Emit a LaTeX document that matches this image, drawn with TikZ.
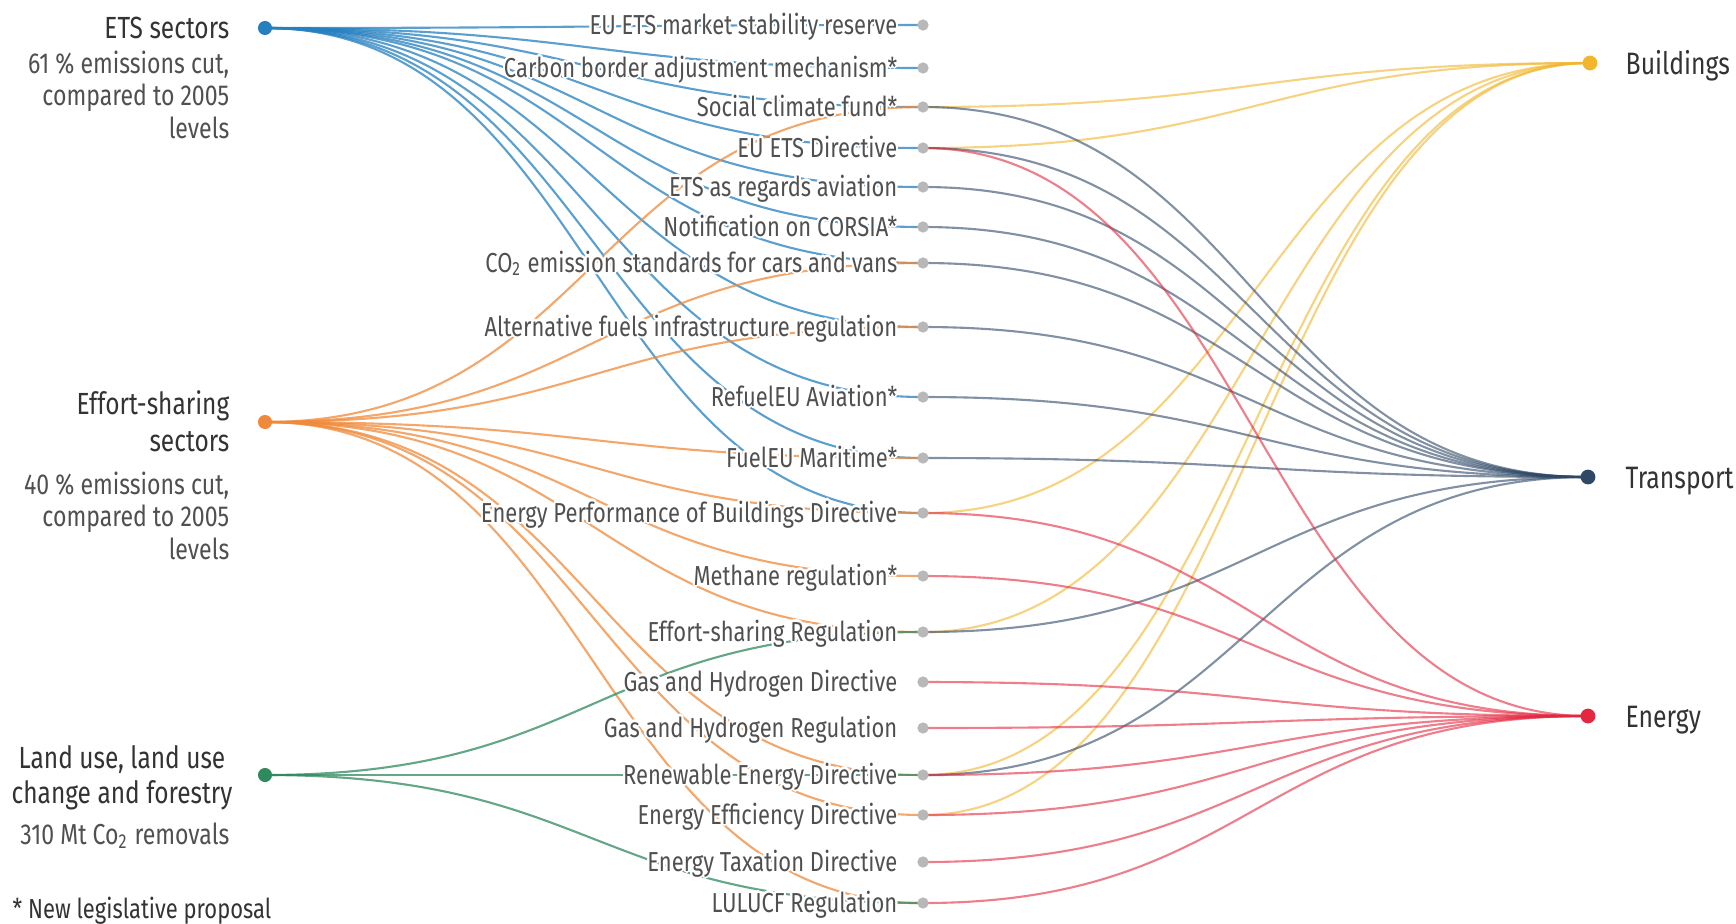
\documentclass[tikz,border=0pt]{standalone}
\usepackage{fontspec}
\setmainfont{Fira Sans}[FakeStretch=0.80]
\usepackage[copies]{contour}
\contourlength{0.6pt}

\definecolor{etsblue}{HTML}{2580C0}
\definecolor{esrorange}{HTML}{F08A3A}
\definecolor{lulgreen}{HTML}{2F8A5E}
\definecolor{buiyellow}{HTML}{F1B62C}
\definecolor{tradark}{HTML}{2E4866}
\definecolor{enered}{HTML}{E3283F}
\definecolor{dotgrey}{HTML}{B8B8B8}
\definecolor{labgrey}{HTML}{505050}
\definecolor{titgrey}{HTML}{333333}

\tikzset{
  link/.style={line width=0.6pt, opacity=0.75},
  rlink/.style={line width=0.6pt, opacity=0.6},
  mlabel/.style={anchor=base east, inner sep=0pt, text=labgrey, font=\fontsize{7.8}{8}\selectfont},
  tit/.style={inner sep=0pt, text=titgrey, font=\fontsize{8.7}{10.5}\selectfont},
  sub/.style={inner sep=0pt, text=labgrey, font=\fontsize{8.2}{9.3}\selectfont},
  rlabel/.style={anchor=base west, inner sep=0pt, text=titgrey, font=\fontsize{8.8}{10}\selectfont}
}

% curve from one dot to another
\newcommand\linkto[4]{\draw[#1,#2] (#3) .. controls +(330,0) and +(-330,0) .. (#4);}

% name / y / text of the measures
\def\items{msr/25/EU ETS market stability reserve, cbam/68/Carbon border adjustment mechanism*,
  scf/107/Social climate fund*, etsd/148/EU ETS Directive, etsav/187/ETS as regards aviation,
  corsia/227/Notification on CORSIA*, cars/263/CO\textsubscript{2} emission standards for cars and vans,
  afir/327/Alternative fuels infrastructure regulation, refuel/397/RefuelEU Aviation*,
  fuel/458/FuelEU Maritime*, epbd/513/Energy Performance of Buildings Directive,
  meth/576/Methane regulation*, esreg/632/Effort-sharing Regulation, ghd/682/Gas and Hydrogen Directive,
  ghr/728/Gas and Hydrogen Regulation, red/775/Renewable Energy Directive,
  eed/815/Energy Efficiency Directive, etd/862/Energy Taxation Directive, lulreg/903/LULUCF Regulation}

\begin{document}
\begin{tikzpicture}[x=0.01cm,y=-0.01cm,line cap=round,line join=round]
\useasboundingbox (0,0) rectangle (1736,923);
\fill[white] (0,0) rectangle (1736,923);

% sectors (left)
\coordinate (ets) at (265,28);
\coordinate (esr) at (265,422);
\coordinate (lul) at (265,775);
% areas (right)
\coordinate (bui) at (1590,63);
\coordinate (tra) at (1588,477);
\coordinate (ene) at (1588,716);
% measures (middle)
\foreach \n/\y/\txt in \items {\coordinate (\n) at (923,\y);}

% left links
\foreach \t in {msr,cbam,scf,etsd,etsav,corsia,cars,afir,refuel,fuel,epbd} {\linkto{link}{etsblue}{ets}{\t}}
\foreach \t in {scf,cars,afir,fuel,epbd,meth,esreg,red,eed,lulreg} {\linkto{link}{esrorange}{esr}{\t}}
\foreach \t in {esreg,red,lulreg} {\linkto{link}{lulgreen}{lul}{\t}}
% right links
\foreach \t in {scf,etsd,epbd,esreg,red,eed} {\linkto{rlink}{buiyellow}{\t}{bui}}
\foreach \t in {scf,etsd,etsav,corsia,cars,afir,refuel,fuel,esreg,red} {\linkto{rlink}{tradark}{\t}{tra}}
\foreach \t in {etsd,epbd,meth,ghd,ghr,red,eed,etd,lulreg} {\linkto{rlink}{enered}{\t}{ene}}

% labels and dots of the measures
\foreach \n/\y/\txt in \items {
  \node[mlabel] (\n-lab) at (898,\y+9) {\contour{white}{\txt}};
  \fill[dotgrey] (\n) circle[radius=1.6pt];
}

% dots and texts of the sectors
\fill[etsblue] (ets) circle[radius=2pt];
\fill[esrorange] (esr) circle[radius=2pt];
\fill[lulgreen] (lul) circle[radius=2pt];
\node[tit, anchor=base east] (ets-t) at (230,38) {ETS sectors};
\node[sub, anchor=north east, align=right] (ets-s) at (230,50) {61 \% emissions cut,\\compared to 2005\\levels};
\node[tit, anchor=north east, align=right] (esr-t) at (230,390) {Effort-sharing\\sectors};
\node[sub, anchor=north east, align=right] (esr-s) at (230,471) {40 \% emissions cut,\\compared to 2005\\levels};
\node[tit, anchor=north, align=center, font=\fontsize{8.7}{10}\selectfont] (lul-t) at (122,745) {Land use, land use\\change and forestry};
\node[sub, anchor=base east] (lul-s) at (230,844) {310 Mt Co\textsubscript{2} removals};

% dots and texts of the areas
\fill[buiyellow] (bui) circle[radius=2.1pt];
\fill[tradark] (tra) circle[radius=2.1pt];
\fill[enered] (ene) circle[radius=2.1pt];
\node[rlabel] (bui-t) at (1625,74) {Buildings};
\node[rlabel] (tra-t) at (1625,488) {Transport};
\node[rlabel] (ene-t) at (1625,727) {Energy};

% footnote
\node[tit, anchor=base west, font=\fontsize{7.8}{9}\selectfont] (note) at (12,918) {* New legislative proposal};
\end{tikzpicture}
\end{document}
